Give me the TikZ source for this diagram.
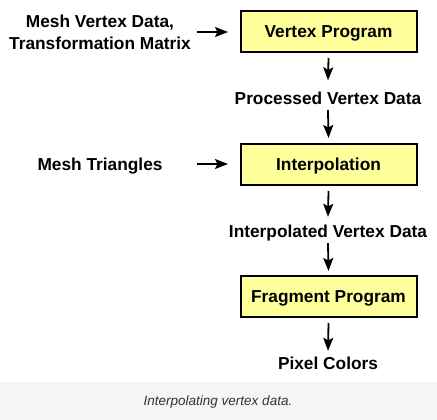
\documentclass[tikz,border=0pt]{standalone}
\usepackage{fontspec}
\setmainfont{Liberation Sans}
\usetikzlibrary{arrows.meta}
\definecolor{boxfill}{HTML}{FFFF9C}
\definecolor{capbg}{HTML}{F5F5F5}
\definecolor{captext}{HTML}{333333}
\begin{document}
\begin{tikzpicture}[x=1pt,y=-1pt,
  stage/.style={draw=black, line width=2pt, fill=boxfill, minimum width=176pt, minimum height=41pt, inner sep=0pt, text height=12pt, text depth=0pt, font=\fontsize{17.3}{20}\selectfont\bfseries},
  lbl/.style={inner sep=0pt, text height=12pt, text depth=0pt, font=\fontsize{17.3}{21}\selectfont\bfseries, align=center},
  flow/.style={line width=1.8pt, -{Stealth[length=13pt,width=10pt,inset=2.5pt]}}]
\useasboundingbox (0,0) rectangle (437,420);
\fill[capbg] (0,382) rectangle (437,420);
\node[font=\fontsize{13.5}{16}\selectfont\itshape, text=captext, inner sep=0pt] (cap) at (218,402) {Interpolating vertex data.};
\node[stage] (vp) at (328.5,31.5) {Vertex Program};
\node[stage] (ip) at (328.5,164.5) {Interpolation};
\node[stage] (fp) at (328.5,296.5) {Fragment Program};
\node[lbl] (pvd) at (328,98.5) {Processed Vertex Data};
\node[lbl] (ivd) at (328,231.5) {Interpolated Vertex Data};
\node[lbl] (pc) at (328,363) {Pixel Colors};
\node[inner sep=0pt, font=\fontsize{17.3}{22}\selectfont\bfseries, align=center] (mvd) at (100,32) {Mesh Vertex Data,\\Transformation Matrix};
\node[lbl] (mt) at (100,164) {Mesh Triangles};
\coordinate (a1s) at (197,32);
\coordinate (a1e) at (228,32);
\coordinate (a2s) at (197,164);
\coordinate (a2e) at (228,164);
\draw[flow] (a1s) -- (a1e);
\draw[flow] (a2s) -- (a2e);
\draw[flow] ([yshift=-5pt]vp.south) -- ([yshift=12pt]pvd.north);
\draw[flow] ([yshift=-5.5pt]pvd.south) -- ([yshift=5pt]ip.north);
\draw[flow] ([yshift=-5pt]ip.south) -- ([yshift=8.5pt]ivd.north);
\draw[flow] ([yshift=-5.5pt]ivd.south) -- ([yshift=4pt]fp.north);
\draw[flow] ([yshift=-5pt]fp.south) -- ([yshift=6pt]pc.north);
\end{tikzpicture}
\end{document}
